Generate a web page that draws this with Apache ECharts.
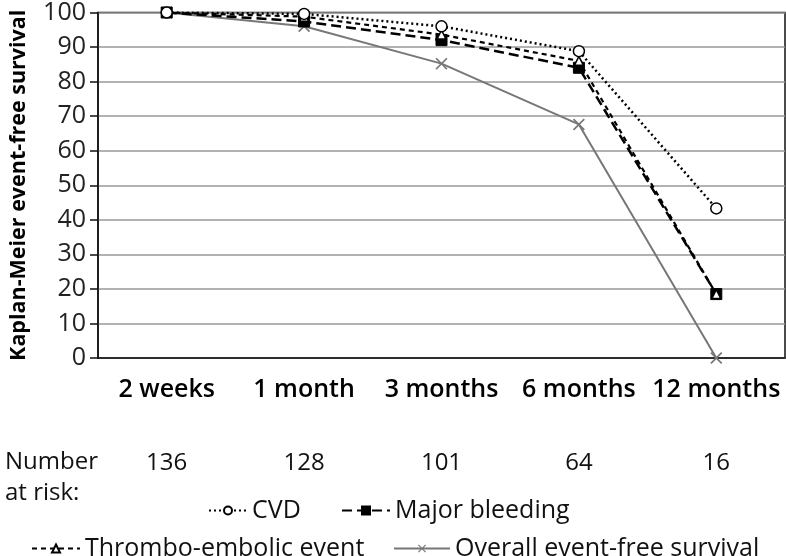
<!DOCTYPE html>
<html>
<head>
<meta charset="utf-8">
<script src="https://cdn.jsdelivr.net/npm/echarts@6/dist/echarts.min.js"></script>
<style>
  html, body { margin: 0; padding: 0; background: #fff; }
  #chart { width: 786px; height: 556px; }
</style>
</head>
<body>
<div id="chart"></div>
<script>
// time points and numbers at risk
const categories = ['2 weeks', '1 month', '3 months', '6 months', '12 months'];
const atRisk = ['136', '128', '101', '64', '16'];

// survival values (%)
const cvd = [100, 99.6, 96, 88.8, 43.3];
const majorBleeding = [100, 97.4, 92, 84, 18.5];
const thrombo = [100, 98.8, 93.6, 86, 18.5];
const overall = [100, 96, 85.2, 67.6, 0];

const font = 'Open Sans';
const xMark = 'path://M0,1 L1,0 L5,4 L9,0 L10,1 L6,5 L10,9 L9,10 L5,6 L1,10 L0,9 L4,5 Z';

const chart = echarts.init(document.getElementById('chart'));

// one legend per item so each can sit where the original puts it
function legendItem(name, left, top, w) {
  return {
    data: [name],
    left: left,
    top: top,
    itemWidth: w,
    itemHeight: 10,
    textStyle: { fontFamily: font, fontSize: 25, color: '#111' }
  };
}

const option = {
  backgroundColor: '#fff',
  animation: false,
  textStyle: { fontFamily: font },
  title: {
    text: 'Number\nat risk:',
    left: 0,
    top: 442,
    textStyle: { fontFamily: font, fontSize: 24, fontWeight: 'normal', color: '#111', lineHeight: 31 }
  },
  legend: [
    legendItem('CVD', 203, 493, 38),
    legendItem('Major bleeding', 336, 493, 48),
    legendItem('Thrombo-embolic event', 26, 531, 48),
    legendItem('Overall event-free survival', 388, 531, 56)
  ],
  grid: {
    left: 96,
    right: 1,
    top: 10,
    bottom: 198,
    show: true,
    borderColor: '#111',
    borderWidth: 1.5
  },
  xAxis: [
    {
      type: 'category',
      data: categories,
      axisLine: { lineStyle: { color: '#111', width: 1.5 } },
      axisTick: { show: false },
      axisLabel: { margin: 19, fontFamily: font, fontSize: 25, fontWeight: 600, color: '#000', interval: 0 }
    },
    {
      type: 'category',
      data: atRisk,
      position: 'bottom',
      axisLine: { show: false },
      axisTick: { show: false },
      axisLabel: { margin: 93, fontFamily: font, fontSize: 24, color: '#111', interval: 0 }
    }
  ],
  yAxis: {
    type: 'value',
    min: 0,
    max: 100,
    interval: 10,
    name: 'Kaplan-Meier event-free survival',
    nameLocation: 'middle',
    nameGap: 68,
    nameTextStyle: { fontFamily: font, fontSize: 21.5, fontWeight: 'bold', color: '#000' },
    axisLine: { show: true, lineStyle: { color: '#111', width: 1.5 } },
    axisTick: { show: true, length: 8, lineStyle: { color: '#111', width: 1.5 } },
    axisLabel: { margin: 12, fontFamily: font, fontSize: 25, color: '#222' },
    splitLine: { lineStyle: { color: '#999', width: 1.5 } }
  },
  series: [
    {
      name: 'CVD',
      type: 'line',
      data: cvd,
      symbol: 'circle',
      symbolSize: 11,
      itemStyle: { color: '#fff', borderColor: '#000', borderWidth: 1.5 },
      lineStyle: { color: '#000', width: 2.5, type: [2, 3] },
      z: 4
    },
    {
      name: 'Major bleeding',
      type: 'line',
      data: majorBleeding,
      symbol: 'rect',
      symbolSize: 11,
      itemStyle: { color: '#000', borderColor: '#000', borderWidth: 1 },
      lineStyle: { color: '#000', width: 2.5, type: [10, 5] },
      z: 2
    },
    {
      name: 'Thrombo-embolic event',
      type: 'line',
      data: thrombo,
      symbol: 'triangle',
      symbolSize: 9,
      itemStyle: { color: '#fff', borderColor: '#000', borderWidth: 1.5 },
      lineStyle: { color: '#000', width: 2.2, type: [5, 4] },
      z: 3
    },
    {
      name: 'Overall event-free survival',
      type: 'line',
      data: overall,
      symbol: xMark,
      symbolSize: 12,
      itemStyle: { color: '#777', borderWidth: 0 },
      lineStyle: { color: '#777', width: 2 },
      z: 1
    }
  ]
};

chart.setOption(option);
</script>
</body>
</html>
